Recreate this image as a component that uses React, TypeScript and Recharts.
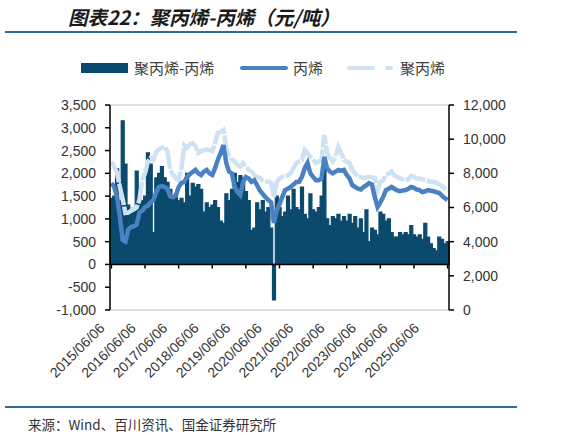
import React from 'react';
import { ComposedChart, Bar, Line, XAxis, YAxis, ReferenceLine } from 'recharts';

// monthly points, 2015/06 .. 2025/06
const buildMonths = () => {
  const out: string[] = [];
  for (let y = 2015; y <= 2025; y++) {
    for (let m = 1; m <= 12; m++) {
      if ((y === 2015 && m < 6) || (y === 2025 && m > 6)) continue;
      out.push(`${y}/${String(m).padStart(2, '0')}/06`);
    }
  }
  return out;
};
const months = buildMonths();

const yearTicks = [
  '2015/06/06', '2016/06/06', '2017/06/06', '2018/06/06', '2019/06/06', '2020/06/06',
  '2021/06/06', '2022/06/06', '2023/06/06', '2024/06/06', '2025/06/06',
];

// 聚丙烯-丙烯 (left axis)
const spread = [
  1450, 1500, 2100, 1400, 3150, 2200, 1300, 1200, 1250, 2050, 1550, 1400,
  1500, 2450, 2200, 700, 1900, 2000, 2150, 1900, 1800, 1650, 1500, 1550,
  1400, 1450, 1350, 2000, 1500, 1780, 1700, 1750, 1650, 1150, 1350, 1250,
  1300, 1400, 1250, 950, 900, 1550, 1400, 1650, 2000, 1800, 1950, 1900,
  1600, 1400, 750, 800, 1350, 1200, 1400, 1150, 1250, 800, -780, 1500,
  1250, 1050, 1150, 1500, 1200, 1650, 1250, 1200, 1700, 1100, 1000, 1550,
  1200, 1150, 1250, 1500, 2350, 1000, 850, 1050, 1000, 1100, 950, 1050,
  950, 1100, 900, 1050, 800, 1000, 700, 1200, 500, 800, 750, 650,
  1150, 1100, 950, 1000, 700, 600, 600, 700, 650, 700, 650, 850,
  650, 600, 650, 550, 900, 600, 450, 350, 300, 600, 550, 450,
  500,
];

// 丙烯 (right axis)
const propylene = [
  7430, 7200, 6620, 5500, 4100, 4000, 4700, 4860, 4900, 5000, 5700, 5800,
  6030, 6100, 6300, 6440, 6900, 7200, 7250, 7200, 7100, 6650, 6600, 6700,
  7200, 7430, 7500, 7790, 7950, 8080, 8200, 8000, 7900, 8100, 8200, 8000,
  7900, 8300, 8800, 9200, 9650, 8600, 8100, 8000, 7200, 6900, 6730, 7500,
  7790, 7700, 7500, 7600, 7300, 7000, 6800, 6600, 6440, 6300, 5100, 5800,
  6200, 6620, 7020, 7100, 7200, 7350, 7490, 7500, 7800, 8300, 8600, 8000,
  7790, 7600, 7600, 7700, 8960, 8300, 8100, 8000, 8100, 8200, 8150, 8200,
  7900, 7700, 7300, 7200, 7100, 7050, 7200, 7300, 7430, 7350, 6620, 6030,
  6300, 6620, 7020, 7100, 7200, 7100, 7000, 6960, 7000, 7020, 7100, 7200,
  7150, 7050, 7020, 6900, 6950, 7020, 6980, 6950, 6900, 6850, 6700, 6550,
  6440,
];

// 聚丙烯 (right axis)
const polypropylene = [
  8680, 8400, 8020, 7220, 6500, 5680, 5700, 5800, 5900, 6000, 6440, 7600,
  8000, 8680, 8900, 8800, 9270, 9400, 9500, 9560, 9300, 8200, 7900, 7700,
  7600, 8300, 9650, 9500, 9700, 9770, 9600, 9190, 9300, 9350, 9400, 9370,
  9300, 9800, 10360, 10420, 10540, 9500, 9000, 8780, 8700, 8500, 8400, 8600,
  8370, 8200, 8100, 7900, 7790, 7730, 7600, 7550, 7500, 7450, 6620, 7500,
  7700, 7790, 7790, 7900, 8020, 8300, 8600, 8700, 8780, 9370, 9190, 8960,
  8800, 8600, 8700, 8780, 10240, 9190, 8900, 8700, 9000, 9540, 9190, 8780,
  8700, 8600, 8200, 7980, 7800, 7790, 7730, 7750, 7790, 7760, 7730, 7020,
  7500, 7600, 7900, 8000, 8100, 7850, 7790, 7700, 7650, 7600, 7650, 7850,
  7800, 7700, 7700, 7650, 7600, 7550, 7500, 7500, 7450, 7350, 7250, 7100,
  6950,
];

const leftTicks = [-1000, -500, 0, 500, 1000, 1500, 2000, 2500, 3000, 3500];
const rightTicks = [0, 2000, 4000, 6000, 8000, 10000, 12000];

const data = months.map((date, i) => ({
  date,
  spread: spread[i],
  propylene: propylene[i],
  polypropylene: polypropylene[i],
}));

const BAR = '#0b4a6d';
const MID = '#4a81c2';
const LIGHT = '#cfe2f3';
const AXIS_FONT = '"Liberation Sans", Arial, sans-serif';
const CJK = '"Noto Sans CJK SC", sans-serif';

const fmt = (v: number) => v.toLocaleString('en-US');

const DateTick = (props: any) => {
  const { x, y, payload } = props;
  const i = yearTicks.indexOf(payload.value);
  const ax = x - 6 - 2.16 * i;
  const ay = y + 19;
  return (
    <text
      x={ax}
      y={ay}
      transform={`rotate(-45, ${ax}, ${ay})`}
      textAnchor="end"
      fontSize={14}
      fill="#333"
      fontFamily={AXIS_FONT}
    >
      {payload.value}
    </text>
  );
};

export default function App() {
  return (
    <div style={{ position: 'absolute', left: 0, top: 0, width: 563, height: 435, background: '#fff' }}>
      <div
        style={{
          position: 'absolute', left: 68, top: 2, fontFamily: CJK, fontSize: 19.5,
          fontWeight: 700, fontStyle: 'italic', color: '#1a1a1a', whiteSpace: 'nowrap',
        }}
      >
        图表22：聚丙烯-丙烯（元/吨）
      </div>
      <div style={{ position: 'absolute', left: 5, top: 31, width: 512, height: 2, background: '#2e6b95' }} />

      {/* legend */}
      <div style={{ position: 'absolute', left: 81, top: 63, width: 47, height: 10, background: BAR }} />
      <span style={{ position: 'absolute', left: 134, top: 58, fontFamily: CJK, fontSize: 15, color: '#404040', lineHeight: '20px' }}>
        聚丙烯-丙烯
      </span>
      <div style={{ position: 'absolute', left: 240, top: 66, width: 48, height: 4, borderRadius: 2, background: MID }} />
      <span style={{ position: 'absolute', left: 293, top: 58, fontFamily: CJK, fontSize: 15, color: '#404040', lineHeight: '20px' }}>
        丙烯
      </span>
      <div style={{ position: 'absolute', left: 347, top: 66, width: 28, height: 4, borderRadius: 2, background: LIGHT }} />
      <div style={{ position: 'absolute', left: 385, top: 66, width: 8, height: 4, borderRadius: 2, background: LIGHT }} />
      <span style={{ position: 'absolute', left: 400, top: 58, fontFamily: CJK, fontSize: 15, color: '#404040', lineHeight: '20px' }}>
        聚丙烯
      </span>

      <div style={{ position: 'absolute', left: 0, top: 0 }}>
        <ComposedChart
          width={563}
          height={435}
          data={data}
          margin={{ top: 105, right: 54, bottom: 45, left: 50 }}
          barCategoryGap={0}
          barGap={0}
        >
          <XAxis
            dataKey="date"
            ticks={yearTicks}
            interval={0}
            axisLine={false}
            tickLine={false}
            tickSize={0}
            tickMargin={0}
            height={80}
            tick={<DateTick />}
          />
          <YAxis
            yAxisId="left"
            width={60}
            domain={[-1000, 3500]}
            ticks={leftTicks}
            interval={0}
            allowDataOverflow
            tickFormatter={fmt}
            axisLine={{ stroke: '#000', strokeWidth: 1.5 }}
            tickLine={{ stroke: '#000', strokeWidth: 1.5 }}
            tickSize={5}
            tickMargin={9}
            tick={{ fontSize: 14, fill: '#333', fontFamily: AXIS_FONT }}
          />
          <YAxis
            yAxisId="right"
            orientation="right"
            width={60}
            domain={[0, 12000]}
            ticks={rightTicks}
            interval={0}
            allowDataOverflow
            tickFormatter={fmt}
            axisLine={{ stroke: '#000', strokeWidth: 1.5 }}
            tickLine={{ stroke: '#000', strokeWidth: 1.5 }}
            tickSize={5}
            tickMargin={9}
            tick={{ fontSize: 14, fill: '#333', fontFamily: AXIS_FONT, textAnchor: 'start' }}
          />
          <ReferenceLine yAxisId="left" y={3500} stroke="#c0c0c0" strokeWidth={1} />
          <ReferenceLine yAxisId="left" y={-1000} stroke="#c0c0c0" strokeWidth={1} />
          <Bar
            yAxisId="left"
            dataKey="spread"
            fill={BAR}
            stroke={BAR}
            strokeWidth={1.2}
            isAnimationActive={false}
          />
          <ReferenceLine yAxisId="left" y={0} stroke="#000" strokeWidth={1.5} />
          {yearTicks.map((d) => (
            <ReferenceLine
              key={d}
              yAxisId="left"
              segment={[{ x: d, y: 0 }, { x: d, y: -90 }]}
              stroke="#000"
              strokeWidth={1.5}
            />
          ))}
          <Line
            yAxisId="right"
            dataKey="polypropylene"
            stroke={LIGHT}
            strokeWidth={4.5}
            strokeDasharray="22 1.5"
            dot={false}
            activeDot={false}
            isAnimationActive={false}
          />
          <Line
            yAxisId="right"
            dataKey="propylene"
            stroke={MID}
            strokeWidth={4.5}
            dot={false}
            activeDot={false}
            isAnimationActive={false}
          />
        </ComposedChart>
      </div>

      <div style={{ position: 'absolute', left: 5, top: 406, width: 512, height: 2, background: '#2e6b95' }} />
      <div
        style={{
          position: 'absolute', left: 28, top: 415, fontFamily: CJK, fontSize: 13.5,
          color: '#333', whiteSpace: 'nowrap', lineHeight: '18px',
        }}
      >
        来源：Wind、百川资讯、国金证券研究所
      </div>
    </div>
  );
}
